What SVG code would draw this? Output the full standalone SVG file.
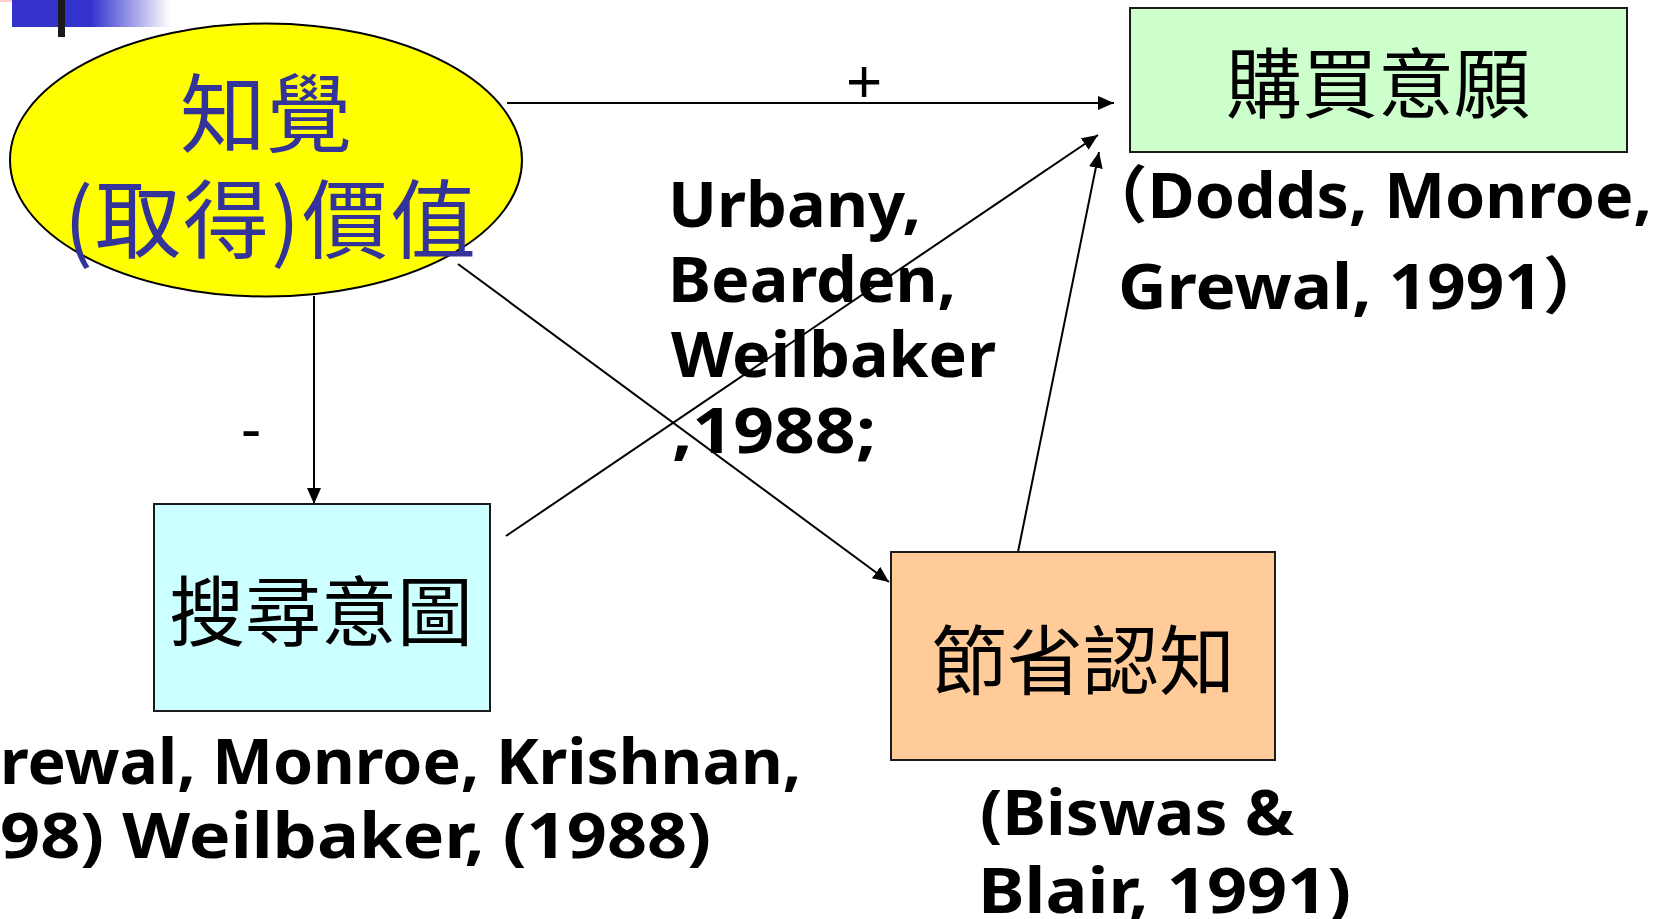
<svg xmlns="http://www.w3.org/2000/svg" width="1659" height="919" viewBox="0 0 1659 919">
<style>
.cjk{font-family:"Noto Sans CJK TC","Noto Sans CJK SC",sans-serif;font-weight:400;text-anchor:middle}
.ref{font-family:"Noto Sans","Noto Sans CJK TC",sans-serif;font-weight:700;font-size:62px;fill:#000}
.box{stroke:#1a1a1a;stroke-width:2}
.conn{stroke:#000;stroke-width:2;fill:none;marker-end:url(#arr)}
.sign{font-family:"Liberation Sans",Arial,sans-serif;font-size:62px;text-anchor:middle;fill:#000}
</style>
<defs>
<linearGradient id="bar" x1="0" y1="0" x2="1" y2="0">
<stop offset="0" stop-color="#3333cc"/>
<stop offset="0.5" stop-color="#3333cc"/>
<stop offset="1" stop-color="#3333cc" stop-opacity="0"/>
</linearGradient>
<marker id="arr" markerUnits="userSpaceOnUse" viewBox="0 0 16 14" markerWidth="16" markerHeight="14" refX="16" refY="7" orient="auto">
<path d="M0,0 L16,7 L0,14 z" fill="#000"/>
</marker>
</defs>
<rect width="1659" height="919" fill="#fff"/>
<g id="header-decor">
<rect x="0" y="0" width="43" height="2" fill="#ffcccc"/>
<rect x="12" y="0" width="158" height="27" fill="url(#bar)"/>
<rect x="58" y="0" width="7" height="37" fill="#1a1a1a"/>
</g>
<g id="connectors">
<path class="conn" d="M507,103 L1114,103"/>
<path class="conn" d="M314,296 L314,504"/>
<path class="conn" d="M458,264 L889,582"/>
<path class="conn" d="M506,536 L1098,135"/>
<path class="conn" d="M1018,552 L1099,152"/>
<text class="sign" x="864" y="102">+</text>
<text class="sign" x="251" y="450">-</text>
</g>
<g id="node-value">
<ellipse cx="266" cy="160" rx="256" ry="136.5" fill="#ffff00" stroke="#000" stroke-width="2"/>
<text class="cjk" x="266" y="146" font-size="86" fill="#333399">知覺</text>
<text class="cjk" x="270" y="252" font-size="86" fill="#333399" textLength="412" lengthAdjust="spacing">(取得)價值</text>
</g>
<g id="node-purchase">
<rect class="box" x="1130" y="8" width="497" height="144" fill="#ccffcc"/>
<text class="cjk" x="1378" y="112" font-size="76" fill="#000">購買意願</text>
<text class="ref" x="1083" y="218" textLength="569" lengthAdjust="spacingAndGlyphs">（Dodds, Monroe,</text>
<text class="ref" x="1118" y="309" textLength="492" lengthAdjust="spacingAndGlyphs">Grewal, 1991）</text>
</g>
<g id="node-search">
<rect class="box" x="154" y="504" width="336" height="207" fill="#ccffff"/>
<text class="cjk" x="321" y="640" font-size="76" fill="#000">搜尋意圖</text>
<text class="ref" x="0" y="784" font-size="60" textLength="801" lengthAdjust="spacingAndGlyphs">rewal, Monroe, Krishnan,</text>
<text class="ref" x="0" y="858" font-size="60" textLength="711" lengthAdjust="spacingAndGlyphs">98) Weilbaker, (1988)</text>
</g>
<g id="node-saving">
<rect class="box" x="891" y="552" width="384" height="208" fill="#ffcc99"/>
<text class="cjk" x="1083" y="689" font-size="76" fill="#000">節省認知</text>
<text class="ref" x="980" y="835" textLength="314" lengthAdjust="spacingAndGlyphs">(Biswas &amp;</text>
<text class="ref" x="978" y="913" textLength="373" lengthAdjust="spacingAndGlyphs">Blair, 1991)</text>
</g>
<g id="label-urbany">
<text class="ref" x="668" y="227" textLength="253" lengthAdjust="spacingAndGlyphs">Urbany,</text>
<text class="ref" x="668" y="302" textLength="288" lengthAdjust="spacingAndGlyphs">Bearden,</text>
<text class="ref" x="671" y="377" textLength="325" lengthAdjust="spacingAndGlyphs">Weilbaker</text>
<text class="ref" x="672" y="453" textLength="204" lengthAdjust="spacingAndGlyphs">,1988;</text>
</g>
</svg>
